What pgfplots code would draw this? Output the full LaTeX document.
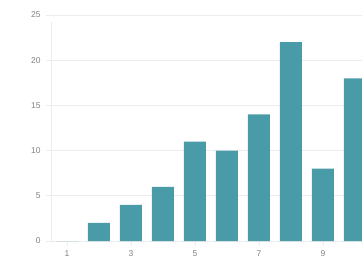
\documentclass[border=0pt]{standalone}
\usepackage{pgfplots}
\pgfplotsset{compat=1.18}
\usepackage{fontspec}
\setmainfont{Liberation Sans}
\definecolor{barc}{RGB}{74,155,168}
\definecolor{gridc}{RGB}{236,236,236}
\definecolor{tickc}{RGB}{130,130,130}
\begin{document}
\begin{tikzpicture}
\begin{axis}[
  scale only axis,
  width=311bp, height=226bp,
  xmin=0.5, xmax=10.22,
  ymin=0, ymax=25,
  ytick={0,5,10,15,20,25},
  xtick={1,3,5,7,9},
  ymajorgrids,
  grid style={gridc, line width=0.8pt},
  axis line style={draw=none},
  axis x line*=bottom,
  axis y line*=left,
  tick style={gridc, line width=0.8pt},
  major tick length=5bp,
  tick align=outside,
  ticklabel style={font=\fontsize{8.5}{9}\selectfont, text=tickc},
  /pgf/number format/assume math mode=true,
  yticklabel style={xshift=-2bp},
  xticklabel style={yshift=-1bp},
  clip=true,
]
\draw[gridc, line width=0.8pt] (axis cs:0.5,0) -- (axis cs:0.5,24.2);
\addplot[ybar, bar width=22bp, fill=barc, draw=none] coordinates {
(1,0) (2,2) (3,4) (4,6) (5,11) (6,10) (7,14) (8,22) (9,8) (10,18)
};
\end{axis}
\pgfresetboundingbox
\path[use as bounding box] (current axis.south west) ++(-51bp,-17bp) rectangle ([yshift=15bp]current axis.north east);
\end{tikzpicture}
\end{document}
